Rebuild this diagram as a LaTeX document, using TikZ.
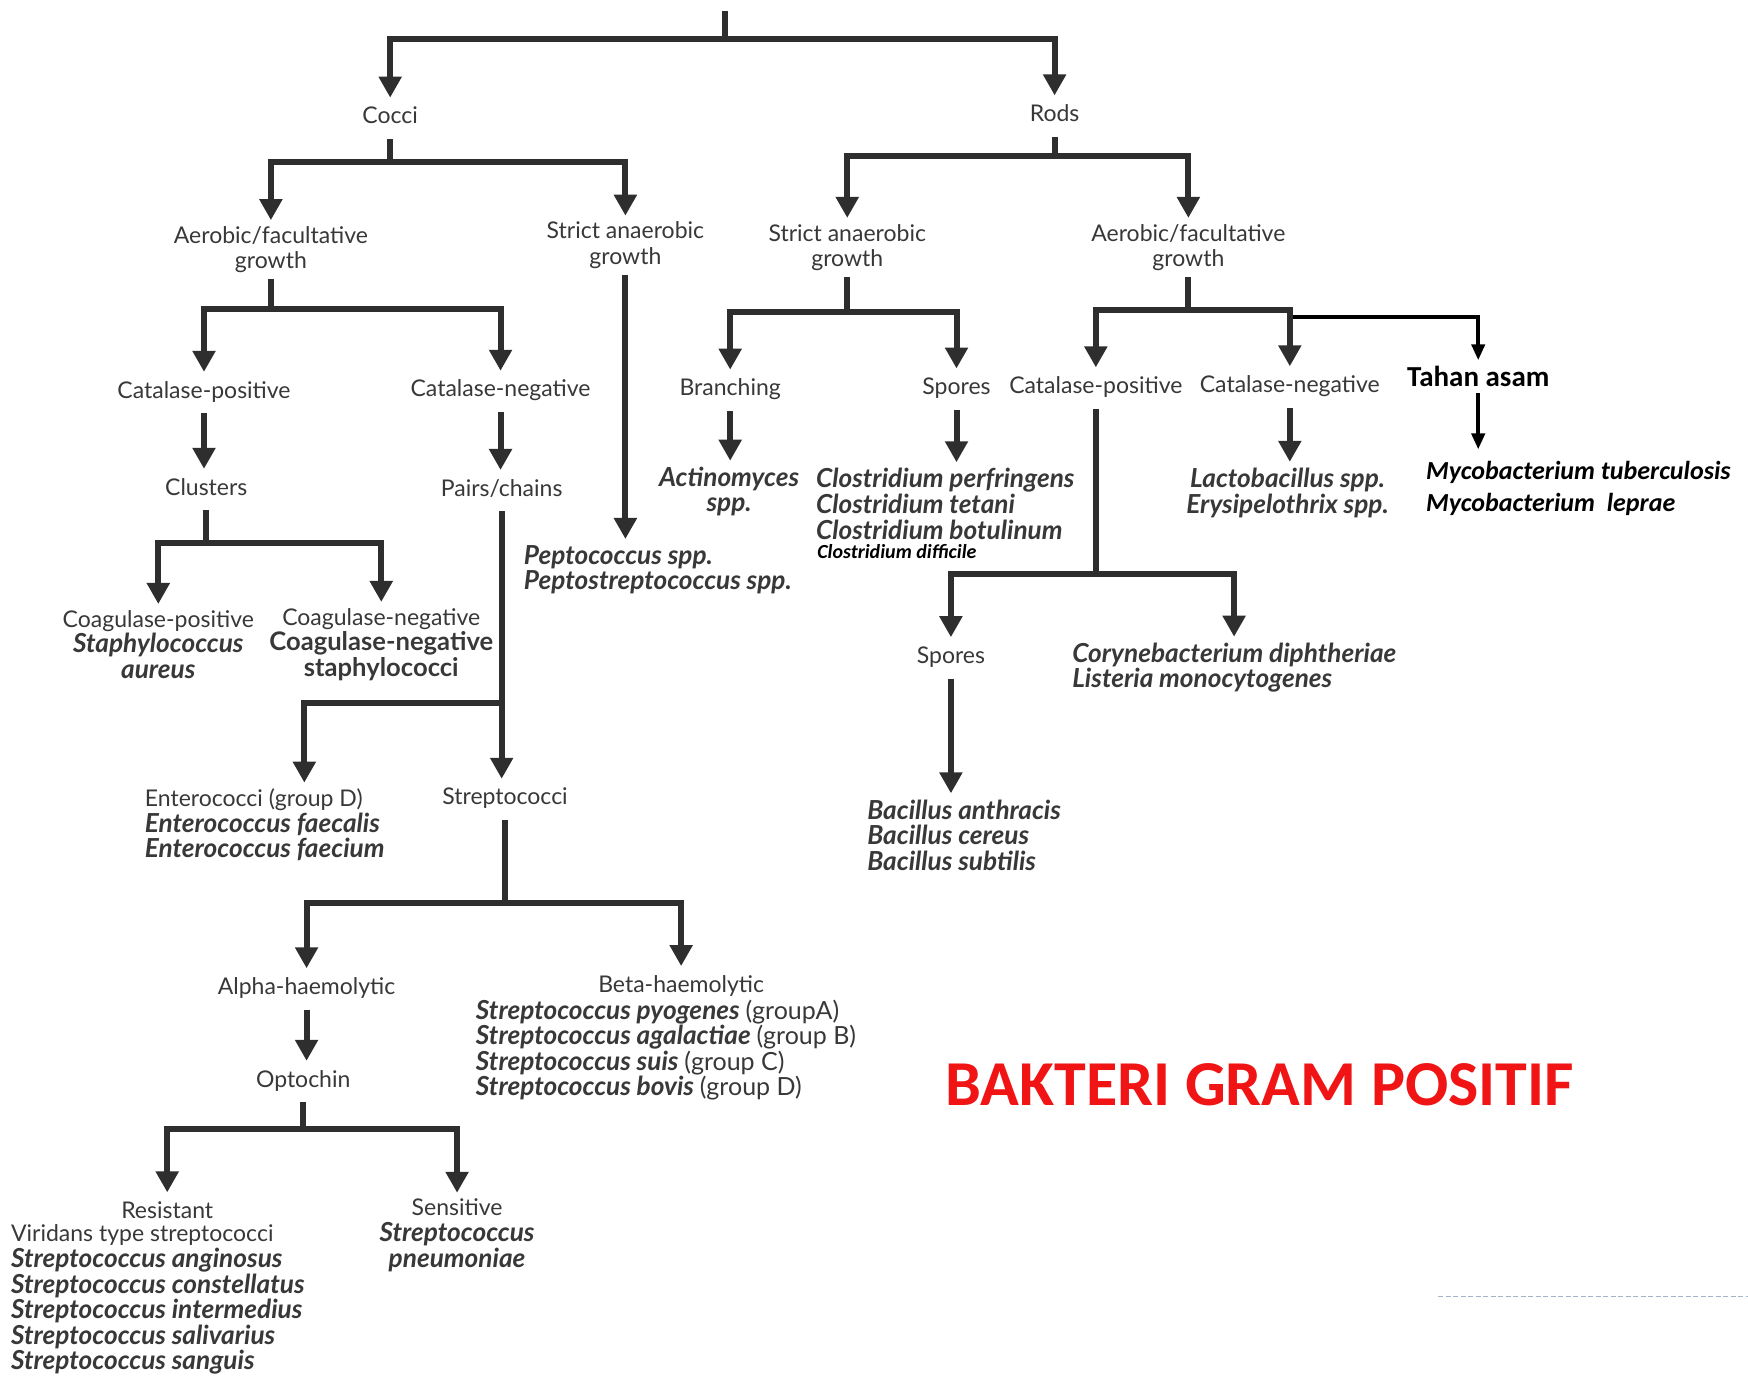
\documentclass[tikz,border=0pt]{standalone}
\usepackage{fontspec}
\setmainfont{Lato}
\newfontfamily\calib{Carlito}
\usetikzlibrary{arrows.meta}
\definecolor{ink}{HTML}{2E2E2E}
\definecolor{tx}{HTML}{383838}
\definecolor{redt}{HTML}{F01414}
\definecolor{dashc}{HTML}{A3B5C8}
\newcommand{\bi}[1]{{\fontsize{26.2}{25.6}\selectfont\bfseries\itshape #1}}
\newcommand{\bu}[1]{{\fontsize{25.6}{25.6}\selectfont\bfseries #1}}
\newcommand{\grp}[1]{{\fontsize{25}{25.6}\selectfont #1}}
\begin{document}
\begin{tikzpicture}[x=1.1148pt,y=-1.1148pt,
 lbl/.style={text=tx,font=\fontsize{23}{25.6}\selectfont,align=center,inner xsep=2pt,inner ysep=6pt},
 sl/.style={lbl,text height=20pt,text depth=9pt,yshift=-3.5pt},
 lst/.style={lbl,align=left,anchor=west},
 ln/.style={draw=ink,line width=6pt},
 arr/.style={ln,-{Triangle[width=22pt,length=21pt]}},
 tarr/.style={draw=black,line width=4pt,-{Triangle[width=13pt,length=16pt]}},
 calb/.style={text=black,font=\fontsize{29}{32}\selectfont\calib\bfseries},
 cali/.style={text=black,font=\fontsize{26}{32}\selectfont\calib\bfseries\itshape,align=left,anchor=west},
]
\fill[white] (0,0) rectangle (1568,1234);
\useasboundingbox (0,0) rectangle (1568,1234);

% ---------- nodes: cocci side
\node[sl] (cocci) at (350,103) {Cocci};
\node[sl] (rods) at (946,101) {Rods};
\node[lbl] (aerc) at (243,224) {Aerobic/facultative\\growth};
\node[lbl] (anac) at (561,220) {Strict anaerobic\\growth};
\node[sl] (catpc) at (183,349) {Catalase-positive};
\node[sl] (catnc) at (449,348) {Catalase-negative};
\node[sl] (clus) at (185,436) {Clusters};
\node[sl] (pairs) at (450,437) {Pairs/chains};
\node[lst] (pepto) at (468,511) {\bi{Peptococcus spp.}\\\bi{Peptostreptococcus spp.}};
\node[lbl] (coagp) at (142,578) {Coagulase-positive\\\bi{Staphylococcus}\\\bi{aureus}};
\node[lbl] (coagn) at (342,578) {Coagulase-negative\\\bu{Coagulase-negative}\\\bu{staphylococci}};
\node[lst] (entero) at (128,740) {Enterococci (group D)\\\bi{Enterococcus faecalis}\\\bi{Enterococcus faecium}};
\node[sl] (strep) at (453,714) {Streptococci};
\node[sl] (alpha) at (275,884) {Alpha-haemolytic};
\node[sl] (opto) at (272,967) {Optochin};
\node[sl] (res) at (150,1085) {Resistant};
\node[lst] (resl) at (8,1166) {Viridans type streptococci\\\bi{Streptococcus anginosus}\\\bi{Streptococcus constellatus}\\\bi{Streptococcus intermedius}\\\bi{Streptococcus salivarius}\\\bi{Streptococcus sanguis}};
\node[lbl] (sens) at (410,1108) {Sensitive\\\bi{Streptococcus}\\\bi{pneumoniae}};
\node[sl] (beta) at (611,882) {Beta-haemolytic};
\node[lst] (betal) at (425,942) {\bi{Streptococcus pyogenes} \grp{(groupA)}\\\bi{Streptococcus agalactiae} \grp{(group B)}\\\bi{Streptococcus suis} \grp{(group C)}\\\bi{Streptococcus bovis} \grp{(group D)}};

% ---------- nodes: rods side
\node[lbl] (anar) at (760,222) {Strict anaerobic\\growth};
\node[lbl] (aerr) at (1066,222) {Aerobic/facultative\\growth};
\node[sl] (branch) at (655,347) {Branching};
\node[sl] (spor1) at (858,346) {Spores};
\node[sl] (catpr) at (983,345) {Catalase-positive};
\node[sl] (catnr) at (1157,344) {Catalase-negative};
\node[calb,inner ysep=6pt] (tahan) at (1326,338) {Tahan asam};
\node[lbl] (actino) at (654,441) {\bi{Actinomyces}\\\bi{spp.}};
\node[lst] (clost) at (730,452) {\bi{Clostridium perfringens}\\\bi{Clostridium tetani}\\\bi{Clostridium botulinum}};
\node[anchor=west,inner sep=0,text=black,font=\fontsize{20}{22}\selectfont\calib\bfseries\itshape] (diff) at (733,495) {Clostridium difficile};
\node[lbl] (lacto) at (1155,442) {\bi{Lactobacillus spp.}\\\bi{Erysipelothrix spp.}};
\node[cali,inner ysep=12pt,inner xsep=0pt] (myco) at (1279,438.5) {Mycobacterium tuberculosis\\Mycobacterium\ \ leprae};
\node[sl] (spor2) at (853,587) {Spores};
\node[lst] (coryne) at (960,599) {\bi{Corynebacterium diphtheriae}\\\bi{Listeria monocytogenes}};
\node[lst] (bacil) at (776,749) {\bi{Bacillus anthracis}\\\bi{Bacillus cereus}\\\bi{Bacillus subtilis}};
\node[anchor=west,inner sep=0,text=redt,font=\fontsize{64}{70}\selectfont\calib\bfseries] (title) at (848,973) {BAKTERI GRAM POSITIF};

% ---------- junction levels
\coordinate (root) at (650,10);
\coordinate (j1) at (650,35);
\coordinate (jc) at (0,145);
\coordinate (ja) at (0,277);
\coordinate (jcl) at (0,487);
\coordinate (je) at (0,631);
\coordinate (ex) at (273,0);
\coordinate (js) at (0,810);
\coordinate (jo) at (0,1013);
\coordinate (jr) at (0,140);
\coordinate (jan) at (0,280);
\coordinate (jaer) at (0,278);
\coordinate (jt) at (1160,284);
\coordinate (jcp) at (0,515);
\coordinate (cx) at (1107,0);

% ---------- connectors
\draw[ln] (root) -- (j1);
\draw[arr] (j1) -| (cocci.north);
\draw[arr] (j1) -| (rods.north);

\draw[arr] (cocci.south) -- (cocci.south |- jc) -| (aerc.north);
\draw[arr] (cocci.south) -- (cocci.south |- jc) -| (anac.north);
\draw[arr] (aerc.south) -- (aerc.south |- ja) -| (catpc.north);
\draw[arr] (aerc.south) -- (aerc.south |- ja) -| (catnc.north);
\draw[arr] (catpc.south) -- (catpc.south |- clus.north);
\draw[arr] (catnc.south) -- (catnc.south |- pairs.north);
\draw[arr] (anac.south) -- (anac.south |- pepto.north);
\draw[arr] (clus.south) -- (clus.south |- jcl) -| (coagp.north);
\draw[arr] (clus.south) -- (clus.south |- jcl) -| (coagn.north);
\draw[arr] (pairs.south) -- (pairs.south |- strep.north);
\draw[arr] (pairs.south |- je) -| (ex |- entero.north);
\draw[arr] (strep.south) -- (strep.south |- js) -| (alpha.north);
\draw[arr] (strep.south) -- (strep.south |- js) -| (beta.north);
\draw[arr] (alpha.south) -- (alpha.south |- opto.north);
\draw[arr] (opto.south) -- (opto.south |- jo) -| (res.north);
\draw[arr] (opto.south) -- (opto.south |- jo) -| (sens.north);

\draw[arr] (rods.south) -- (rods.south |- jr) -| (anar.north);
\draw[arr] (rods.south) -- (rods.south |- jr) -| (aerr.north);
\draw[arr] (anar.south) -- (anar.south |- jan) -| (branch.north);
\draw[arr] (anar.south) -- (anar.south |- jan) -| (spor1.north);
\draw[arr] (branch.south) -- (branch.south |- actino.north);
\draw[arr] (spor1.south) -- (spor1.south |- clost.north);
\draw[arr] (aerr.south) -- (aerr.south |- jaer) -| (catpr.north);
\draw[arr] (aerr.south) -- (aerr.south |- jaer) -| (catnr.north);
\draw[arr] (catnr.south) -- (catnr.south |- lacto.north);
\draw[tarr] (jt) -| (tahan.north);
\draw[tarr] (tahan.south) -- (tahan.south |- myco.north);
\draw[arr] (catpr.south) -- (catpr.south |- jcp) -| (spor2.north);
\draw[arr] (catpr.south) -- (catpr.south |- jcp) -| (cx |- coryne.north);
\draw[arr] (spor2.south) -- (spor2.south |- bacil.north);

% ---------- dashed rule
\coordinate (dl1) at (1290,1163);
\coordinate (dl2) at (1568,1163);
\draw[dashc,line width=1.5pt,dash pattern=on 5pt off 2.5pt] (dl1) -- (dl2);
\end{tikzpicture}
\end{document}
